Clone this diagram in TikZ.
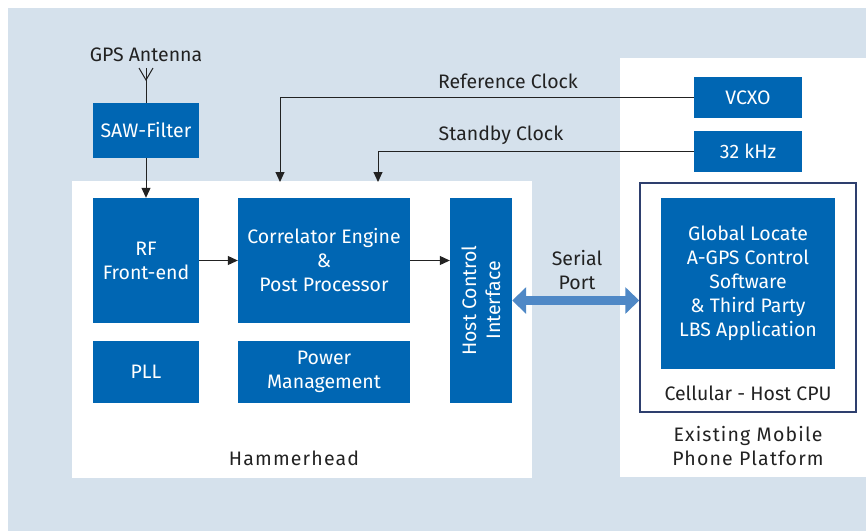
\documentclass[tikz,border=0pt]{standalone}
\usepackage{fontspec}
\setmainfont{Fira Sans}
\newfontfamily\trackfont[LetterSpace=6]{Fira Sans}
\usetikzlibrary{arrows.meta}
\definecolor{bgblue}{HTML}{D5E1EC}
\definecolor{boxblue}{HTML}{0066B3}
\definecolor{arrblue}{HTML}{4F88C6}
\definecolor{navy}{HTML}{2E3F6E}
\definecolor{txt}{HTML}{222222}
\begin{document}
\begin{tikzpicture}[x=1pt,y=-1pt,
  blk/.style={fill=boxblue, text=white, inner sep=0pt, align=center, font=\fontsize{19.5}{24}\selectfont},
  lbl/.style={text=txt, inner sep=0pt, align=center, font=\fontsize{19.5}{24}\selectfont},
  tlbl/.style={text=txt, inner sep=0pt, align=center, font=\trackfont\fontsize{19.5}{24}\selectfont},
  conn/.style={draw=txt, line width=1pt},
  tip/.style={-{Triangle[length=10pt,width=9pt]}}
]
\useasboundingbox (0,0) rectangle (866,531);
\fill[white] (0,0) rectangle (866,531);
\fill[bgblue] (8,8) rectangle (866,531);
\fill[white] (72,181) rectangle (532,478);
\fill[white] (620,58) rectangle (866,477);

\node[blk, minimum width=106pt, minimum height=55pt] (saw) at (146,130.5) {SAW-Filter};
\node[blk, minimum width=106pt, minimum height=125pt] (rf) at (146,260.5) {RF\\Front-end};
\node[blk, minimum width=106pt, minimum height=62pt] (pll) at (146,372) {PLL};
\node[blk, minimum width=172pt, minimum height=125pt] (corr) at (324,260.5) {Correlator Engine\\\&\\Post Processor};
\node[blk, minimum width=172pt, minimum height=62pt] (pwr) at (324,372) {Power\\Management};
\node[blk, minimum width=205pt, minimum height=62pt, rotate=90] (host) at (481,300.5) {Host Control\\Interface};
\node[blk, minimum width=108pt, minimum height=41pt] (vcxo) at (748,97.5) {VCXO};
\node[blk, minimum width=108pt, minimum height=41pt] (khz) at (748,151.5) {32 kHz};
\node[draw=navy, line width=1.5pt, minimum width=216pt, minimum height=229pt, inner sep=0pt] (cpu) at (748,297.5) {};
\node[blk, minimum width=174pt, minimum height=171pt] (gl) at (748,283.5) {Global Locate\\A-GPS Control\\Software\\\& Third Party\\LBS Application};

\node[lbl] (gps) at (146,55) {GPS Antenna};
\node[lbl] (refl) at (508,81) {Reference Clock};
\node[lbl] (stbl) at (501,135) {Standby Clock};
\node[lbl] (serl) at (577,270) {Serial\\Port};
\node[tlbl] (ham) at (294,458) {Hammerhead};
\node[lbl] (cpul) at (748,393) {Cellular - Host CPU};
\node[tlbl] (plat) at (748,446) {Existing Mobile\\Phone Platform};

\coordinate (ant) at (146,68);
\draw[conn] (139,68) -- (146,80) -- (153,68);
\draw[conn] (ant) -- (saw.north);
\draw[conn,tip] (saw) -- (rf);
\draw[conn,tip] (rf) -- (corr);
\draw[conn,tip] (corr.east) -- (corr.east -| host.north);
\coordinate (rcend) at (280,182);
\coordinate (scend) at (378,182);
\draw[conn,tip] (vcxo.west) -| (rcend);
\draw[conn,tip] (khz.west) -| (scend);
\draw[arrblue, line width=9pt, {Triangle[length=14pt,width=26pt]}-{Triangle[length=14pt,width=26pt]}] (host.south) -- (host.south -| cpu.west);
\end{tikzpicture}
\end{document}
